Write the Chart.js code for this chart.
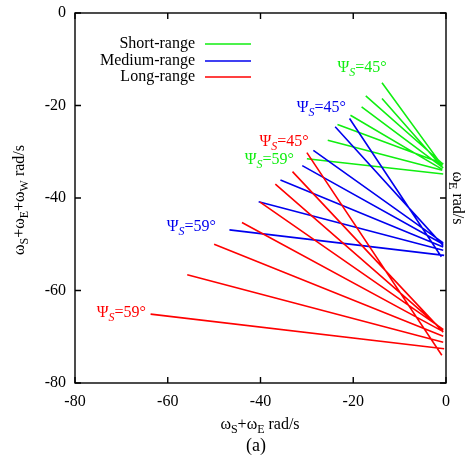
<!DOCTYPE html>
<html><head><meta charset="utf-8">
<script src="https://cdn.jsdelivr.net/npm/chart.js@4/dist/chart.umd.min.js"></script>
<style>html,body{margin:0;padding:0;background:#fff;}#wrap{width:467px;height:458px;position:relative;}</style>
</head><body><div id="wrap"><canvas id="c"></canvas></div>
<script>
const xTicks = [-80, -60, -40, -20, 0];
const yTicks = [-80, -60, -40, -20, 0];
const seriesNames = ['Short-range', 'Medium-range', 'Long-range'];
const seriesColors = ['#10ee10', '#0000ee', '#ff0000'];

const shortStartX = [-13.8, -17.3, -13.8, -18.2, -20.6, -23.4, -25.5, -30.0];
const shortStartY = [-15.1, -17.9, -18.5, -20.3, -22.1, -24.1, -27.5, -31.5];
const shortEndX   = [-0.8, -0.6, -0.8, -0.6, -0.8, -0.6, -0.8, -0.6];
const shortEndY   = [-33.0, -32.7, -33.3, -33.5, -33.8, -32.6, -34.0, -34.8];

const mediumStartX = [-20.8, -23.9, -28.6, -31.0, -35.7, -40.4, -46.7];
const mediumStartY = [-22.8, -24.6, -29.7, -33.0, -36.1, -40.8, -46.9];
const mediumEndX   = [-1.0, -0.6, -0.6, -0.6, -0.6, -0.6, -0.4];
const mediumEndY   = [-52.7, -50.3, -49.7, -50.0, -50.6, -51.3, -52.4];

const longStartX = [-30.0, -33.1, -36.8, -40.1, -44.0, -50.0, -55.8, -63.7];
const longStartY = [-30.2, -34.3, -37.0, -40.9, -45.3, -50.0, -56.6, -65.1];
const longEndX   = [-0.9, -0.6, -0.6, -0.6, -0.6, -0.6, -0.6, -0.4];
const longEndY   = [-74.0, -69.0, -68.6, -68.4, -68.9, -69.9, -71.2, -72.6];

// annotation labels  Ψ_S=...
const noteValue = ['45°', '45°', '45°', '59°', '59°', '59°'];
const noteX     = [-18.1, -26.9, -34.9, -38.1, -54.9, -70.0];
const noteY     = [-11.9, -20.5, -27.9, -31.8, -46.3, -64.9];
const noteSeries = [0, 1, 2, 0, 1, 2];

function segs(sx, sy, ex, ey) {
  const pts = [];
  for (let i = 0; i < sx.length; i++) {
    pts.push({x: sx[i], y: sy[i]}, {x: ex[i], y: ey[i]}, {x: ex[i], y: null});
  }
  return pts;
}

const FONT = '"Liberation Serif", "DejaVu Serif", serif';

function richWidth(ctx, parts, size) {
  let w = 0;
  for (const p of parts) {
    ctx.font = (p.it ? 'italic ' : '') + (p.sub ? Math.round(size * 0.72) : size) + 'px ' + FONT;
    w += ctx.measureText(p.t).width;
  }
  return w;
}
function drawRich(ctx, parts, x, y, size, align) {
  const w = richWidth(ctx, parts, size);
  let cx = align === 'center' ? x - w / 2 : (align === 'right' ? x - w : x);
  ctx.textBaseline = 'middle';
  ctx.textAlign = 'left';
  for (const p of parts) {
    ctx.font = (p.it ? 'italic ' : '') + (p.sub ? Math.round(size * 0.72) : size) + 'px ' + FONT;
    ctx.fillText(p.t, cx, p.sub ? y + size * 0.3 : y);
    cx += ctx.measureText(p.t).width;
  }
}

const deco = {
  id: 'deco',
  afterDraw(chart) {
    const {ctx, chartArea: a, scales: {x, y}} = chart;
    ctx.save();
    ctx.strokeStyle = '#000';
    ctx.lineWidth = 1.4;
    ctx.strokeRect(a.left, a.top, a.right - a.left, a.bottom - a.top);
    ctx.beginPath();
    for (const v of xTicks) {
      const p = x.getPixelForValue(v);
      ctx.moveTo(p, a.bottom); ctx.lineTo(p, a.bottom - 6);
      ctx.moveTo(p, a.top); ctx.lineTo(p, a.top + 6);
    }
    for (const v of yTicks) {
      const p = y.getPixelForValue(v);
      ctx.moveTo(a.left, p); ctx.lineTo(a.left + 6, p);
      ctx.moveTo(a.right, p); ctx.lineTo(a.right - 6, p);
    }
    ctx.stroke();

    ctx.fillStyle = '#000';
    // x title
    drawRich(ctx, [{t:'ω'},{t:'S',sub:true},{t:'+ω'},{t:'E',sub:true},{t:' rad/s'}], 260, 425, 16, 'center');
    // (a)
    ctx.font = '18px ' + FONT; ctx.textAlign = 'center'; ctx.textBaseline = 'middle';
    ctx.fillText('(a)', 256, 446);
    // left y title
    ctx.save();
    ctx.translate(20, 200);
    ctx.rotate(-Math.PI / 2);
    drawRich(ctx, [{t:'ω'},{t:'S',sub:true},{t:'+ω'},{t:'E',sub:true},{t:'+ω'},{t:'W',sub:true},{t:' rad/s'}], 0, 0, 16, 'center');
    ctx.restore();
    // right title
    ctx.save();
    ctx.translate(457, 198);
    ctx.rotate(Math.PI / 2);
    drawRich(ctx, [{t:'ω'},{t:'E',sub:true},{t:' rad/s'}], 0, 0, 16, 'center');
    ctx.restore();

    // legend
    const ly = [44, 61, 77];
    for (let i = 0; i < seriesNames.length; i++) {
      ctx.font = '16px ' + FONT; ctx.textAlign = 'right'; ctx.textBaseline = 'middle';
      ctx.fillStyle = '#000';
      ctx.fillText(seriesNames[i], 195, ly[i]);
      ctx.strokeStyle = seriesColors[i]; ctx.lineWidth = 1.6;
      ctx.beginPath(); ctx.moveTo(205, ly[i]); ctx.lineTo(251, ly[i]); ctx.stroke();
    }

    // annotations
    for (let i = 0; i < noteX.length; i++) {
      ctx.fillStyle = seriesColors[noteSeries[i]];
      drawRich(ctx, [{t:'Ψ'},{t:'S',sub:true,it:true},{t:'=' + noteValue[i]}],
        x.getPixelForValue(noteX[i]), y.getPixelForValue(noteY[i]), 16, 'center');
    }
    ctx.restore();
  }
};

new Chart(document.getElementById('c'), {
  type: 'scatter',
  data: {
    datasets: [
      {label: seriesNames[0], data: segs(shortStartX, shortStartY, shortEndX, shortEndY), borderColor: seriesColors[0], order: 2},
      {label: seriesNames[1], data: segs(mediumStartX, mediumStartY, mediumEndX, mediumEndY), borderColor: seriesColors[1], order: 1},
      {label: seriesNames[2], data: segs(longStartX, longStartY, longEndX, longEndY), borderColor: seriesColors[2], order: 0}
    ].map(d => Object.assign(d, {showLine: true, spanGaps: false, pointRadius: 0, borderWidth: 1.6, fill: false}))
  },
  options: {
    responsive: true,
    maintainAspectRatio: false,
    animation: false,
    events: [],
    layout: {padding: {top: 13, right: 21, left: 0, bottom: 0}},
    plugins: {legend: {display: false}, tooltip: {enabled: false}},
    scales: {
      x: {
        type: 'linear', min: -80, max: 0,
        afterBuildTicks: s => { s.ticks = xTicks.map(v => ({value: v})); },
        afterFit: s => { s.height = 75; s.paddingLeft = 0; s.paddingRight = 0; },
        grid: {display: false, drawTicks: false},
        border: {display: false},
        ticks: {padding: 9, color: '#000', font: {family: FONT, size: 16}, maxRotation: 0}
      },
      y: {
        type: 'linear', min: -80, max: 0,
        afterBuildTicks: s => { s.ticks = yTicks.map(v => ({value: v})); },
        afterFit: s => { s.width = 75; s.paddingTop = 0; s.paddingBottom = 0; },
        grid: {display: false, drawTicks: false},
        border: {display: false},
        ticks: {padding: 9, color: '#000', font: {family: FONT, size: 16}}
      }
    }
  },
  plugins: [deco]
});
</script>
</body></html>
